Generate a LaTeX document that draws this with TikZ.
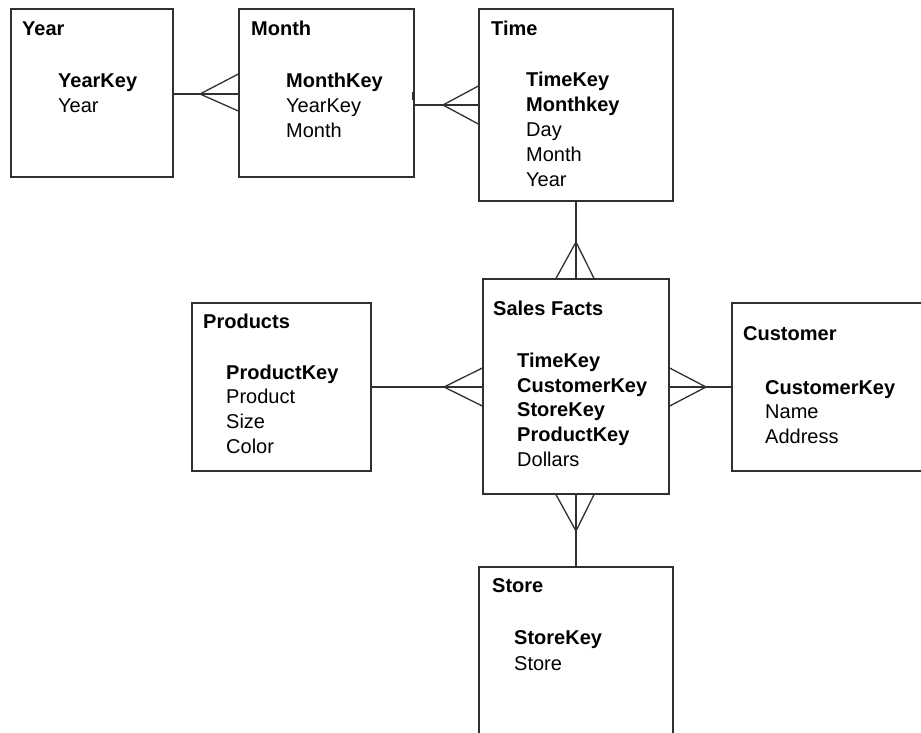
\documentclass[tikz,border=0pt]{standalone}
\usepackage{fontspec}
\setmainfont{Liberation Sans}
\usetikzlibrary{fit,calc}
\definecolor{linec}{HTML}{303030}
\begin{document}
\begin{tikzpicture}[x=1pt,y=-1pt,
  box/.style={draw=linec, line width=1.3pt, inner sep=0pt},
  conn/.style={draw=linec, line width=1.3pt},
  ttl/.style={anchor=base west, inner sep=0pt, font=\fontsize{20}{25}\selectfont\bfseries},
  keyf/.style={anchor=base west, inner sep=0pt, font=\fontsize{20}{25}\selectfont\bfseries},
  fld/.style={anchor=base west, inner sep=0pt, font=\fontsize{20}{25}\selectfont}]
\useasboundingbox (0,0) rectangle (921,732);
\clip (0,0) rectangle (921,732);
\fill[white] (0,0) rectangle (921,732);

% boxes
\node[box, fit={(11,9) (173,177)}] (year) {};
\node[box, fit={(239,9) (414,177)}] (month) {};
\node[box, fit={(479,9) (673,201)}] (time) {};
\node[box, fit={(483,279) (669,494)}] (sales) {};
\node[box, fit={(192,303) (371,471)}] (products) {};
\node[box, fit={(732,303) (940,471)}] (customer) {};
\node[box, fit={(479,567) (673,760)}] (store) {};

% Year
\node[ttl] (yeart) at (22,35) {Year};
\node[keyf] (year1) at (58,87) {YearKey};
\node[fld] (year2) at (58,112) {Year};
% Month
\node[ttl] (montht) at (251,35) {Month};
\node[keyf] (month1) at (286,87) {MonthKey};
\node[fld] (month2) at (286,112) {YearKey};
\node[fld] (month3) at (286,137) {Month};
% Time
\node[ttl] (timet) at (491,35) {Time};
\node[keyf] (time1) at (526,86) {TimeKey};
\node[keyf] (time2) at (526,111) {Monthkey};
\node[fld] (time3) at (526,136) {Day};
\node[fld] (time4) at (526,161) {Month};
\node[fld] (time5) at (526,186) {Year};
% Sales Facts
\node[ttl] (salest) at (493,315) {Sales Facts};
\node[keyf] (sales1) at (517,367) {TimeKey};
\node[keyf] (sales2) at (517,392) {CustomerKey};
\node[keyf] (sales3) at (517,416) {StoreKey};
\node[keyf] (sales4) at (517,441) {ProductKey};
\node[fld] (sales5) at (517,466) {Dollars};
% Products
\node[ttl] (prodt) at (203,328) {Products};
\node[keyf] (prod1) at (226,379) {ProductKey};
\node[fld] (prod2) at (226,403) {Product};
\node[fld] (prod3) at (226,428) {Size};
\node[fld] (prod4) at (226,453) {Color};
% Customer
\node[ttl] (custt) at (743,340) {Customer};
\node[keyf] (cust1) at (765,394) {CustomerKey};
\node[fld] (cust2) at (765,418) {Name};
\node[fld] (cust3) at (765,443) {Address};
% Store
\node[ttl] (storet) at (492,592) {Store};
\node[keyf] (store1) at (514,644) {StoreKey};
\node[fld] (store2) at (514,670) {Store};

% Year -- Month
\coordinate (a1) at (200,94);
\draw[conn] (year.east |- a1) -- (month.west |- a1);
\draw[conn] ($(month.west |- a1)+(0,-20)$) -- (a1) -- ($(month.west |- a1)+(0,17)$);
% Month -- Time
\coordinate (a2) at (443,105);
\draw[conn] (month.east |- a2) -- (time.west |- a2);
\draw[conn] ($(time.west |- a2)+(0,-19)$) -- (a2) -- ($(time.west |- a2)+(0,19)$);
\draw[draw=linec, line width=2.6pt] ($(month.east)+(-1,-1)$) -- ($(month.east)+(-1,7)$);
% Time -- Sales
\coordinate (a3) at (576,242);
\draw[conn] (time.south -| sales.north) -- (sales.north);
\draw[conn] ($(sales.north)+(-20,0)$) -- (a3) -- ($(sales.north)+(18,0)$);
% Products -- Sales
\coordinate (a4) at (444,387);
\draw[conn] (products.east |- a4) -- (sales.west |- a4);
\draw[conn] ($(sales.west |- a4)+(0,-19)$) -- (a4) -- ($(sales.west |- a4)+(0,19)$);
% Sales -- Customer
\coordinate (a5) at (706,387);
\draw[conn] (sales.east |- a5) -- (customer.west |- a5);
\draw[conn] ($(sales.east |- a5)+(0,-19)$) -- (a5) -- ($(sales.east |- a5)+(0,19)$);
% Sales -- Store
\coordinate (a6) at (576,531);
\draw[conn] (sales.south) -- (store.north -| sales.south);
\draw[conn] ($(sales.south)+(-20,0)$) -- (a6) -- ($(sales.south)+(18,0)$);
\end{tikzpicture}
\end{document}
